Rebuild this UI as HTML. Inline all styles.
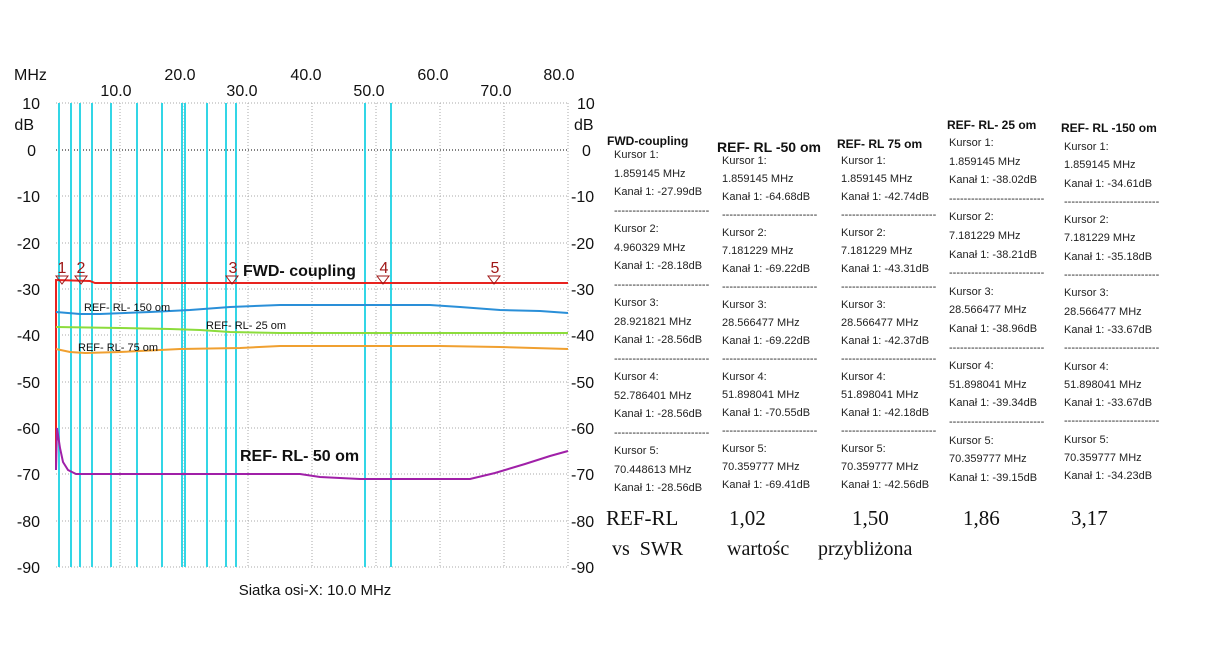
<!DOCTYPE html><html><head><meta charset="utf-8"><style>
body{margin:0;width:1210px;height:647px;background:#fff;position:relative;overflow:hidden;font-family:"Liberation Sans",sans-serif}
.c{position:absolute;font-size:11px;color:#222;line-height:18px;white-space:nowrap}
.h{position:absolute;font-weight:bold;white-space:nowrap;color:#111}
.s{position:absolute;font-family:"Liberation Serif",serif;font-size:21px;color:#111;white-space:nowrap}
</style></head><body>
<svg width="610" height="647" style="position:absolute;left:0;top:0" font-family="Liberation Sans, sans-serif">
<g stroke="#aaa" stroke-dasharray="1,2" stroke-width="1">
<line x1="56" y1="103" x2="568" y2="103"/>
<line x1="56" y1="196" x2="568" y2="196"/><line x1="56" y1="243" x2="568" y2="243"/>
<line x1="56" y1="289" x2="568" y2="289"/><line x1="56" y1="335" x2="568" y2="335"/>
<line x1="56" y1="382" x2="568" y2="382"/><line x1="56" y1="428" x2="568" y2="428"/>
<line x1="56" y1="474" x2="568" y2="474"/><line x1="56" y1="521" x2="568" y2="521"/>
<line x1="56" y1="567" x2="568" y2="567"/>
<line x1="120" y1="103" x2="120" y2="567"/><line x1="184" y1="103" x2="184" y2="567"/>
<line x1="248" y1="103" x2="248" y2="567"/><line x1="312" y1="103" x2="312" y2="567"/>
<line x1="376" y1="103" x2="376" y2="567"/><line x1="440" y1="103" x2="440" y2="567"/>
<line x1="504" y1="103" x2="504" y2="567"/><line x1="568" y1="103" x2="568" y2="567"/>
</g>
<line x1="56" y1="150" x2="568" y2="150" stroke="#000" stroke-dasharray="1,2"/>
<g stroke="#33d6e6" stroke-width="2">
<line x1="59" y1="103" x2="59" y2="567"/><line x1="71" y1="103" x2="71" y2="567"/>
<line x1="80" y1="103" x2="80" y2="567"/><line x1="92" y1="103" x2="92" y2="567"/>
<line x1="111" y1="103" x2="111" y2="567"/><line x1="137" y1="103" x2="137" y2="567"/>
<line x1="162" y1="103" x2="162" y2="567"/><line x1="182" y1="103" x2="182" y2="567"/>
<line x1="185" y1="103" x2="185" y2="567"/><line x1="207" y1="103" x2="207" y2="567"/>
<line x1="226" y1="103" x2="226" y2="567"/><line x1="236" y1="103" x2="236" y2="567"/>
<line x1="365" y1="103" x2="365" y2="567"/><line x1="391" y1="103" x2="391" y2="567"/>
</g>
<g fill="none" stroke-width="2">
<polyline stroke="#e8231f" points="56,470 56,280 90,281 95,283 568,283"/>
<polyline stroke="#2a8fd8" points="56,312 80,314 100,314 150,312 190,310 230,307 280,305 330,305 430,305 460,307 500,310 540,311 568,313"/>
<polyline stroke="#8cdc3c" points="56,327 120,328 170,329 200,330 230,332 280,333 568,333"/>
<polyline stroke="#f0a030" points="56,349 70,352 85,353 120,352 180,349 240,348 280,346 440,346 500,347 568,349"/>
<polyline stroke="#a020a8" points="56,470 57,428 60,448 63,462 68,470 76,474 300,474 320,477 360,479 470,479 495,473 525,464 550,456 568,451"/>
</g>
<g fill="none" stroke="#a01818" stroke-width="1">
<path d="M56,276 h12 l-6,8 z"/><path d="M75,276 h12 l-6,8 z"/><path d="M226,276 h12 l-6,8 z"/><path d="M377,276 h12 l-6,8 z"/><path d="M488,276 h12 l-6,8 z"/>
</g>
<g fill="#a01818" font-size="16" text-anchor="middle">
<text x="62" y="273">1</text><text x="81" y="273">2</text><text x="233" y="273">3</text><text x="384" y="273">4</text><text x="495" y="273">5</text>
</g>
<g font-size="16" fill="#111">
<text x="14" y="80">MHz</text>
<g text-anchor="middle"><text x="180" y="80">20.0</text><text x="306" y="80">40.0</text><text x="433" y="80">60.0</text><text x="559" y="80">80.0</text>
<text x="116" y="96">10.0</text><text x="242" y="96">30.0</text><text x="369" y="96">50.0</text><text x="496" y="96">70.0</text></g>
<g text-anchor="end"><text x="40" y="109">10</text><text x="34" y="130">dB</text><text x="36" y="156">0</text>
<text x="40" y="202">-10</text><text x="40" y="249">-20</text><text x="40" y="295">-30</text><text x="40" y="341">-40</text><text x="40" y="388">-50</text><text x="40" y="434">-60</text><text x="40" y="480">-70</text><text x="40" y="527">-80</text><text x="40" y="573">-90</text></g>
<g><text x="577" y="109">10</text><text x="574" y="130">dB</text><text x="582" y="156">0</text>
<text x="571" y="202">-10</text><text x="571" y="249">-20</text><text x="571" y="295">-30</text><text x="571" y="341">-40</text><text x="571" y="388">-50</text><text x="571" y="434">-60</text><text x="571" y="480">-70</text><text x="571" y="527">-80</text><text x="571" y="573">-90</text></g>
<text x="315" y="595" text-anchor="middle" font-size="15">Siatka osi-X: 10.0 MHz</text>
</g>
<text x="243" y="276" font-size="16" font-weight="bold" fill="#111">FWD- coupling</text>
<text x="240" y="461" font-size="16" font-weight="bold" fill="#111">REF- RL- 50 om</text>
<g font-size="11" fill="#111"><text x="84" y="311">REF- RL- 150 om</text><text x="206" y="329">REF- RL- 25 om</text><text x="78" y="351">REF- RL- 75 om</text></g>
</svg>

<div class="h" style="left:607px;top:134px;font-size:12px">FWD-coupling</div>
<div class="h" style="left:717px;top:139px;font-size:14px">REF- RL -50 om</div>
<div class="h" style="left:837px;top:137px;font-size:12px">REF- RL 75 om</div>
<div class="h" style="left:947px;top:118px;font-size:12px">REF- RL- 25 om</div>
<div class="h" style="left:1061px;top:121px;font-size:12px">REF- RL -150 om</div>

<div class="c" style="left:614px;top:146px;line-height:18.5px">Kursor 1:<br>1.859145 MHz<br>Kanał 1: -27.99dB<br>--------------------------<br>Kursor 2:<br>4.960329 MHz<br>Kanał 1: -28.18dB<br>--------------------------<br>Kursor 3:<br>28.921821 MHz<br>Kanał 1: -28.56dB<br>--------------------------<br>Kursor 4:<br>52.786401 MHz<br>Kanał 1: -28.56dB<br>--------------------------<br>Kursor 5:<br>70.448613 MHz<br>Kanał 1: -28.56dB</div>
<div class="c" style="left:722px;top:152px">Kursor 1:<br>1.859145 MHz<br>Kanał 1: -64.68dB<br>--------------------------<br>Kursor 2:<br>7.181229 MHz<br>Kanał 1: -69.22dB<br>--------------------------<br>Kursor 3:<br>28.566477 MHz<br>Kanał 1: -69.22dB<br>--------------------------<br>Kursor 4:<br>51.898041 MHz<br>Kanał 1: -70.55dB<br>--------------------------<br>Kursor 5:<br>70.359777 MHz<br>Kanał 1: -69.41dB</div>
<div class="c" style="left:841px;top:152px">Kursor 1:<br>1.859145 MHz<br>Kanał 1: -42.74dB<br>--------------------------<br>Kursor 2:<br>7.181229 MHz<br>Kanał 1: -43.31dB<br>--------------------------<br>Kursor 3:<br>28.566477 MHz<br>Kanał 1: -42.37dB<br>--------------------------<br>Kursor 4:<br>51.898041 MHz<br>Kanał 1: -42.18dB<br>--------------------------<br>Kursor 5:<br>70.359777 MHz<br>Kanał 1: -42.56dB</div>
<div class="c" style="left:949px;top:134px;line-height:18.6px">Kursor 1:<br>1.859145 MHz<br>Kanał 1: -38.02dB<br>--------------------------<br>Kursor 2:<br>7.181229 MHz<br>Kanał 1: -38.21dB<br>--------------------------<br>Kursor 3:<br>28.566477 MHz<br>Kanał 1: -38.96dB<br>--------------------------<br>Kursor 4:<br>51.898041 MHz<br>Kanał 1: -39.34dB<br>--------------------------<br>Kursor 5:<br>70.359777 MHz<br>Kanał 1: -39.15dB</div>
<div class="c" style="left:1064px;top:138px;line-height:18.3px">Kursor 1:<br>1.859145 MHz<br>Kanał 1: -34.61dB<br>--------------------------<br>Kursor 2:<br>7.181229 MHz<br>Kanał 1: -35.18dB<br>--------------------------<br>Kursor 3:<br>28.566477 MHz<br>Kanał 1: -33.67dB<br>--------------------------<br>Kursor 4:<br>51.898041 MHz<br>Kanał 1: -33.67dB<br>--------------------------<br>Kursor 5:<br>70.359777 MHz<br>Kanał 1: -34.23dB</div>

<div class="s" style="left:606px;top:506px">REF-RL</div>
<div class="s" style="left:729px;top:506px">1,02</div>
<div class="s" style="left:852px;top:506px">1,50</div>
<div class="s" style="left:963px;top:506px">1,86</div>
<div class="s" style="left:1071px;top:506px">3,17</div>
<div class="s" style="left:612px;top:538px;font-size:20px">vs&nbsp; SWR</div>
<div class="s" style="left:727px;top:538px;font-size:20px">wartośc</div>
<div class="s" style="left:818px;top:538px;font-size:20px">przybliżona</div>
</body></html>
